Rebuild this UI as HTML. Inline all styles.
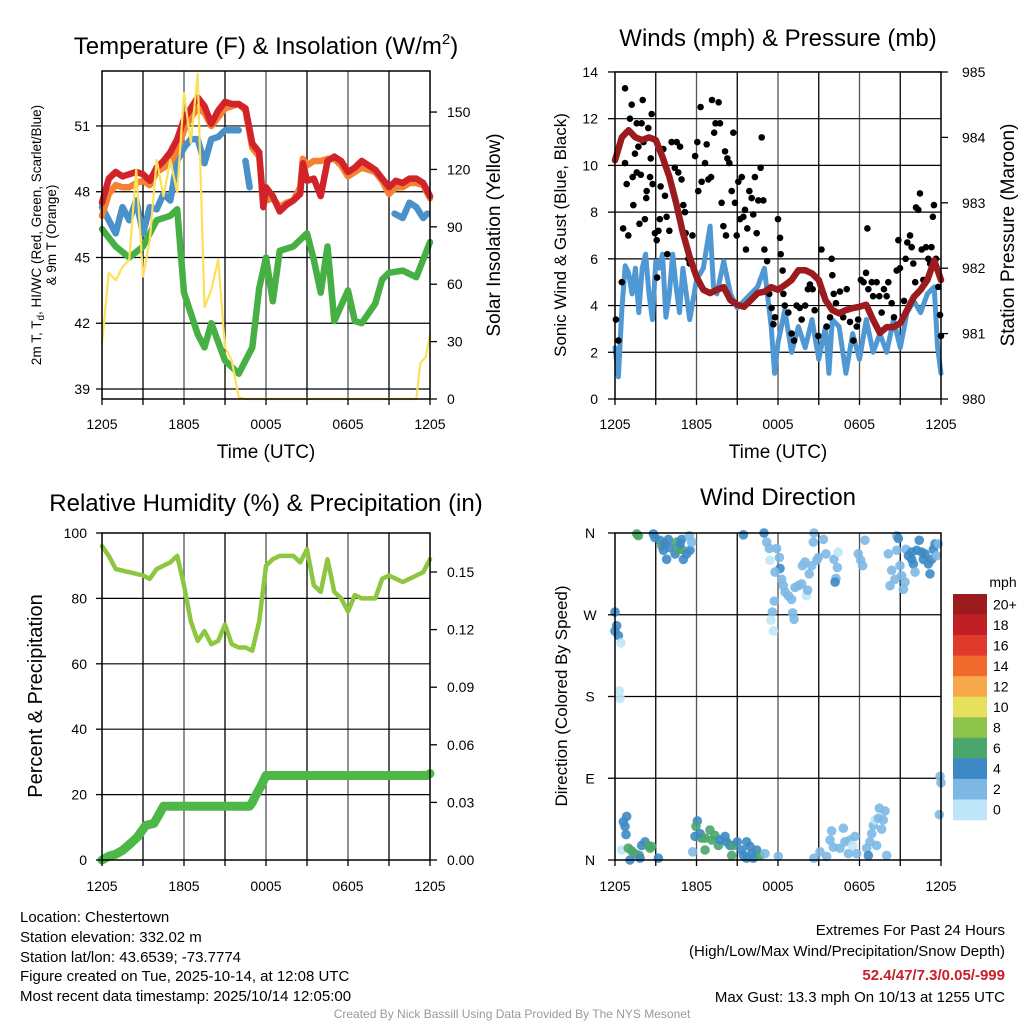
<!DOCTYPE html>
<html><head><meta charset="utf-8"><style>
body{margin:0;background:#fff}
svg{display:block;font-family:"Liberation Sans",sans-serif}
</style></head><body>
<svg id="chart" width="1024" height="1024" viewBox="0 0 1024 1024" xmlns="http://www.w3.org/2000/svg">
<rect width="1024" height="1024" fill="#fff"/>
<g id="grids"></g>
<g id="marks"></g>
<g id="frames" fill="none" stroke="#000" stroke-width="1.5">
<rect x="102" y="71" width="328" height="328"/>
<rect x="615" y="72" width="326" height="327"/>
<rect x="102" y="533" width="328" height="327"/>
<rect x="615" y="533" width="326" height="327"/>
</g>
<g id="ticks" font-size="14" fill="#000"></g>
<g font-size="24" text-anchor="middle">
<text x="266" y="54">Temperature (F) &amp; Insolation (W/m<tspan font-size="15" dy="-10">2</tspan><tspan dy="10">)</tspan></text>
<text x="778" y="46">Winds (mph) &amp; Pressure (mb)</text>
<text x="266" y="511">Relative Humidity (%) &amp; Precipitation (in)</text>
<text x="778" y="505">Wind Direction</text>
</g>
<g font-size="19" text-anchor="middle">
<text x="266" y="458">Time (UTC)</text>
<text x="778" y="458">Time (UTC)</text>
<text transform="translate(500,235) rotate(-90)">Solar Insolation (Yellow)</text>
<text transform="translate(1014,235) rotate(-90)">Station Pressure (Maroon)</text>
<text transform="translate(42,696) rotate(-90)" font-size="20">Percent &amp; Precipitation</text>
</g>
<g font-size="17" text-anchor="middle">
<text transform="translate(566,235) rotate(-90)">Sonic Wind &amp; Gust (Blue, Black)</text>
<text transform="translate(567,696) rotate(-90)">Direction (Colored By Speed)</text>
</g>
<g font-size="13.5" text-anchor="middle">
<text transform="translate(41,235) rotate(-90)">2m T, T<tspan font-size="10" dy="3">d</tspan><tspan dy="-3">, HI/WC (Red, Green, Scarlet/Blue)</tspan></text>
<text transform="translate(56,235) rotate(-90)">&amp; 9m T (Orange)</text>
</g>
<g id="colorbar"></g>
<g font-size="15" fill="#000">
<text x="20" y="922">Location: Chestertown</text>
<text x="20" y="942">Station elevation: 332.02 m</text>
<text x="20" y="962">Station lat/lon: 43.6539; -73.7774</text>
<text x="20" y="981">Figure created on Tue, 2025-10-14, at 12:08 UTC</text>
<text x="20" y="1001">Most recent data timestamp: 2025/10/14 12:05:00</text>
<g text-anchor="end">
<text x="1005" y="935">Extremes For Past 24 Hours</text>
<text x="1005" y="956">(High/Low/Max Wind/Precipitation/Snow Depth)</text>
<text x="1005" y="980" fill="#c8202a" font-weight="bold">52.4/47/7.3/0.05/-999</text>
<text x="1005" y="1002">Max Gust: 13.3 mph On 10/13 at 1255 UTC</text>
</g>
</g>
<text x="512" y="1018" font-size="12" fill="#999" text-anchor="middle">Created By Nick Bassill Using Data Provided By The NYS Mesonet</text>
</svg>
<script>
// ---------- data ----------
const xTickLabels = ["1205","1805","0005","0605","1205"];
const xTickHours = [0,6,12,18,24];
const p1LeftTicks = [39,42,45,48,51];
const p1RightTicks = [0,30,60,90,120,150];
const p2LeftTicks = [0,2,4,6,8,10,12,14];
const p2RightTicks = [980,981,982,983,984,985];
const p3LeftTicks = [0,20,40,60,80,100];
const p3RightTicks = [0,0.03,0.06,0.09,0.12,0.15];
const dirTickDeg = [0,90,180,270,360];
const dirTickLabels = ["N","E","S","W","N"];

const redHours = [0,0.5,1,1.5,2,2.5,3,3.5,4,4.5,5,5.5,6,6.5,7,7.5,8,8.5,9,9.5,10,10.5,11,11.5,11.8,12,12.5,13,13.5,14,14.5,14.7,15,15.5,16,16.5,17,17.5,18,18.5,19,19.5,20,20.5,21,21.5,22,22.5,23,23.5,24];
const tempRed = [47.5,48.6,48.9,48.7,48.8,48.9,48.8,48.5,49.1,49.4,49.8,50.4,51.3,51.8,52.3,51.9,51.1,51.7,52.1,52.0,52.0,51.8,50.2,49.8,47.3,48.2,47.8,47.1,47.4,47.6,47.9,49.3,48.5,48.6,47.8,49.4,49.6,49.4,48.9,49.1,49.4,49.2,49.0,48.6,48.2,48.5,48.4,48.6,48.6,48.4,47.8];
const tempOrange = [46.9,47.9,48.3,48.2,48.2,48.4,48.5,48.3,48.9,49.1,49.3,49.9,50.8,51.4,51.8,51.6,51.0,51.4,51.8,51.9,52.0,51.7,50.0,49.6,47.6,47.6,47.7,47.3,47.5,47.6,48.2,49.5,49.2,49.4,49.4,49.5,49.5,49.2,48.7,48.9,49.1,49.0,48.9,48.5,47.9,48.2,48.2,48.4,48.4,48.3,47.7];
const greenHours = [0,1,2,3,4,5,5.5,6,7,7.5,8,9,10,11,11.5,12,12.5,13,14,15,15.5,16,16.5,17,18,18.5,19,20,20.5,21,22,23,24];
const tempGreen = [46.3,45.5,45.0,45.5,46.7,46.9,47.2,43.4,41.5,40.9,42.0,40.3,39.7,40.9,43.6,45.0,43.0,45.3,45.5,46.1,44.9,43.4,45.5,42.1,43.5,42.1,42.0,42.9,44.0,44.3,44.4,44.1,45.7];
const blueHours = [0,0.5,1,1.5,2,2.5,3,3.5,4,4.5,5,5.5,6,6.5,7,7.5,8,8.5,9,9.5,10,10.3,10.5,10.8,11,21.2,21.4,22,22.5,23,23.5,23.8,24];
const tempBlue = [47.3,46.7,46.1,47.3,46.7,47.6,46.1,47.3,47.2,47.9,47.6,49.4,50.0,50.4,50.4,49.3,50.4,50.5,50.8,50.8,50.8,null,49.4,48.2,null,null,47.0,46.8,47.5,47.3,46.8,47.0,null];
const solarHours = [0,0.5,1,1.5,2,2.5,3,3.5,4,4.5,5,5.5,6,6.5,7,7.5,8,8.5,9,9.5,10,10.5,23,23.3,23.7,24];
const solarValues = [29,66,62,69,73,120,64,83,125,106,125,108,160,134,170,48,57,73,27,20,1,0,0,19,22,34];

const windHours = [0,0.25,0.5,0.75,1,1.25,1.5,1.75,2,2.25,2.5,2.75,3,3.25,3.5,3.75,4,4.25,4.5,4.75,5,5.5,6,6.5,7,7.25,7.5,8,8.5,9,9.5,10,10.5,11,11.5,11.75,12,12.5,13,13.5,14,14.5,15,15.5,15.75,16,16.5,17,17.5,18,18.5,19,19.5,20,20.5,21,21.5,22,22.5,23,23.5,23.75,24];
const windSpeed = [2.2,0.95,3.8,5.7,5.4,4.5,5.6,3.7,5.6,6.2,4.5,3.4,5.9,5.6,6.2,3.5,4.5,6.2,4.8,3.7,5.6,3.4,5.1,5.6,7.4,4.8,4.5,5.9,4.5,3.9,4.2,4.5,4.8,5.6,3.1,1.1,2.4,3.8,2.0,3.1,2.2,3.4,1.7,3.1,1.1,3.4,3.1,1.1,2.8,1.7,3.4,2.0,2.8,2.0,3.4,2.2,3.7,4.2,3.7,4.5,4.8,2.2,1.1];
const pressHours = [0,0.5,1,1.5,2,2.5,3,3.5,4,4.5,5,5.5,6,6.5,7,7.5,8,8.5,9,9.5,10,10.5,11,11.5,12,12.5,13,13.5,14,14.5,15,15.5,16,16.5,17,17.5,18,18.5,19,19.5,20,20.5,21,21.5,22,22.5,23,23.5,24];
const pressValues = [983.65,984.0,984.11,984.0,983.96,984.0,983.96,983.7,983.4,983.0,982.54,982.17,981.87,981.67,981.62,981.67,981.71,981.51,981.44,981.41,981.51,981.62,981.64,981.71,981.67,981.74,981.82,981.97,981.97,981.92,981.82,981.51,981.36,981.31,981.36,981.39,981.41,981.44,981.21,981.01,981.1,981.1,981.16,981.36,981.56,981.67,981.82,982.12,981.82];
const gustHours = [0.07,0.25,0.5,0.6,0.74,0.74,0.86,0.98,1.1,1.23,1.3,1.35,1.47,1.6,1.6,1.72,1.8,1.9,1.96,2.04,2.1,2.2,2.3,2.33,2.45,2.58,2.63,2.7,2.77,2.94,3.07,3.2,3.1,3.3,3.36,3.56,3.68,3.8,3.85,4.0,4.17,4.4,4.54,4.66,4.79,4.9,5.03,5.15,5.2,5.4,5.5,5.7,5.9,6.06,6.13,6.3,6.38,6.63,6.75,6.87,7.07,7.14,7.3,7.4,7.63,7.73,7.85,7.98,8.1,8.17,8.27,8.42,8.59,8.71,8.83,8.96,9.08,9.2,9.33,9.45,9.57,9.64,9.74,9.89,10.06,10.18,10.3,10.43,10.55,10.72,10.8,10.92,11.0,11.2,11.36,11.53,11.66,11.78,12.0,12.15,12.2,12.34,12.4,12.5,12.76,13.0,13.18,13.37,13.6,13.74,14.0,14.2,14.35,14.55,14.7,14.97,15.2,15.34,15.58,15.83,15.95,16.0,16.1,16.27,16.56,16.8,17.06,17.3,17.55,17.8,17.9,18.1,18.3,18.48,18.58,18.65,18.9,19.0,19.26,19.46,19.63,19.8,20.0,20.12,20.37,20.54,20.74,20.86,20.98,21.28,21.4,21.52,21.72,21.84,21.96,22.1,22.16,22.33,22.45,22.58,22.7,22.9,23.06,23.2,23.3,23.4,23.48,23.63,23.8,23.93,24.0];
const gustValues = [3.4,2.5,5.0,7.3,13.3,10.1,9.2,7.0,12.0,12.6,9.5,8.3,10.5,11.8,9.7,10.8,7.5,9.6,11.8,12.8,11.0,7.7,8.6,8.9,11.6,9.5,10.3,12.2,9.2,7.1,6.8,7.2,5.2,7.7,9.1,10.7,8.7,7.8,6.2,7.2,11.0,9.9,11.0,9.7,10.8,9.4,8.3,8.0,7.1,6.0,5.8,7.0,10.4,11.0,8.9,12.5,9.3,10.1,10.9,9.4,9.5,12.8,11.4,11.8,12.7,11.8,8.4,7.4,10.6,7.0,10.3,10.1,8.9,11.4,8.4,7.0,9.3,7.7,9.5,7.8,8.1,6.4,7.3,8.9,8.6,7.9,9.5,7.1,8.5,9.9,11.2,8.5,6.4,5.9,4.5,3.9,3.2,3.5,7.7,6.9,6.2,5.5,4.5,4.0,3.7,2.8,2.5,4.0,3.9,3.4,4.0,4.7,4.9,4.7,3.8,2.7,6.4,4.5,3.1,3.5,6.0,5.3,4.5,4.1,4.6,3.5,4.7,3.3,2.5,3.1,3.4,5.1,5.0,5.4,7.3,4.7,5.0,4.4,5.0,4.4,3.7,4.7,4.4,5.0,4.1,3.5,5.5,6.8,5.6,4.2,6.0,6.7,7.0,6.5,5.8,5.0,8.2,8.1,8.8,6.4,5.1,6.5,6.0,5.8,6.5,7.8,8.3,6.0,4.8,3.6,2.7];

const rhHours = [0,0.5,1,2,3,3.5,4,5,5.5,6,6.5,7,7.5,8,8.5,9,9.5,10,10.5,11,11.5,12,12.5,13,14,14.5,15,15.5,16,16.5,17,17.5,18,18.5,19,20,20.5,21,22,22.5,23,23.5,24];
const rhValues = [96,93,89,88,87,86,89,91,93,84,73,67,70,66,67,72,66,65,65,64,73,90,92,93,93,91,95,84,82,92,82,80,76,81,80,80,86,87,85,86,87,88,92];
const precipHours = [0,0.5,1,1.5,2,2.6,3.2,3.8,4.2,4.5,10.8,11.0,11.2,11.6,12.0,23.8,24];
const precipValues = [0,0.002,0.003,0.005,0.008,0.012,0.018,0.019,0.024,0.028,0.028,0.030,0.033,0.038,0.044,0.044,0.045];

const dirHours = [1.6,1.72,2.82,2.94,3.31,3.44,3.68,3.93,4.05,3.8,4.42,4.54,4.66,4.91,4.91,5.03,5.28,5.52,5.47,5.64,4.79,3.56,
9.45,10.97,11.17,11.36,11.9,11.41,12.1,12.15,11.78,12.27,12.39,12.52,12.76,13.0,13.25,13.5,13.74,14.1,14.18,14.3,13.8,13.99,14.48,14.85,14.97,14.6,14.65,15.34,15.53,16.12,16.37,16.44,16.27,16.2,17.91,18.09,18.23,18.4,11.73,11.58,11.48,11.66,13.08,13.18,
20.12,20.37,20.25,20.61,20.74,20.86,20.74,20.98,21.23,21.35,21.1,21.42,21.6,21.84,21.96,22.09,22.21,22.4,22.58,22.7,22.82,23.07,23.19,23.31,23.44,23.56,23.8,23.68,21.84,
0,0.12,0,0.25,0.44,0.32,0.37,
0.86,0.61,0.74,0.81,0.49,0.98,1.23,1.47,1.79,1.1,1.96,2.21,2.45,2.58,2.7,1.84,3.19,
6.06,5.96,5.89,6.38,6.26,6.63,6.99,7.12,7.36,7.61,7.73,8.1,8.22,8.47,8.71,9.0,9.33,9.45,9.69,9.94,10.06,10.18,10.43,10.67,11.04,5.72,8.59,6.63,12.02,9.69,
14.65,15.09,15.58,15.83,15.95,16.07,16.56,16.81,16.93,17.18,17.3,17.5,17.67,17.79,18.53,18.65,18.77,18.9,19.02,19.14,19.26,19.39,19.63,19.75,19.88,19.46,20.0,23.93,24,23.88];
const dirDegrees = [359,357,359,355,352,346,348,353,344,331,337,350,342,342,353,331,337,341,357,350,348,341,
358,360,350,343,343,330,333,321,317,309,302,295,291,287,300,302,304,291,297,315,324,328,324,330,333,350,360,353,337,331,322,339,310,306,337,330,324,352,285,273,264,252,272,265,
337,319,302,309,357,354,341,324,298,306,313,342,335,331,326,317,341,352,339,331,337,326,315,331,342,348,348,335,339,
273,258,252,247,239,186,178,
48,42,37,28,11,13,10,7,5,0,16,20,16,13,15,2,2,
43,37,26,24,29,24,33,22,27,16,22,26,20,16,16,20,11,5,20,15,7,2,11,5,7,9,5,11,4,2,
2,9,4,22,32,14,13,35,20,7,22,16,26,7,13,5,20,29,38,44,16,46,34,44,54,57,5,92,85,50];
const dirSpeeds = [7,7,5,5,5,7,5,5,5,5,5,7,7,7,5,5,5,5,3,3,5,5,
5,5,3,3,3,1,3,5,3,3,3,3,3,3,3,3,3,1,3,3,3,3,3,3,3,3,3,3,3,3,3,1,3,5,3,3,3,3,3,3,1,1,3,3,
3,3,3,3,3,5,3,3,3,3,3,3,5,5,5,3,5,5,5,5,5,5,5,5,5,5,3,3,5,
5,5,5,5,1,1,1,
5,5,5,5,1,7,7,7,7,5,5,5,7,7,7,5,5,
5,7,5,7,5,7,7,7,7,7,5,5,5,5,7,5,5,5,5,5,5,5,5,7,3,3,7,7,3,5,
3,3,3,3,3,3,3,3,3,3,3,1,3,3,3,5,3,3,3,1,3,3,3,3,3,3,3,3,3,3];
const cbLabels = ["20+","18","16","14","12","10","8","6","4","2","0"];
const cbColors = ["#9b1b1e","#c11f26","#df3a2b","#f0692d","#f7a84a","#e7e05c","#8dc24b","#4aa66b","#3d89c5","#7db8e4","#bfe5f9"];

// ---------- scales ----------
const NS = "http://www.w3.org/2000/svg";
const p1x = h => 102 + h * 328 / 24;
const p1yT = v => 389 - (v - 39) * 21.92;
const p1yS = v => 399 - v * 1.913;
const p2x = h => 615 + h * 326 / 24;
const p2yW = v => 399 - v * 23.36;
const p2yP = v => 399 - (v - 980) * 65.4;
const p3yRH = v => 860 - v * 3.27;
const p3yP = v => 860 - v * 1920;
const p4y = d => 860 - d * 0.9083;
function speedColor(s){ const i = Math.min(10, Math.floor(s / 2)); return cbColors[10 - i]; }

function mk(tag, attrs, parent){
  const e = document.createElementNS(NS, tag);
  for (const k in attrs) e.setAttribute(k, attrs[k]);
  parent.appendChild(e);
  return e;
}
function pathD(xs, ys, fx, fy){
  let d = "", pen = false;
  for (let i = 0; i < xs.length; i++){
    if (ys[i] === null){ pen = false; continue; }
    d += (pen ? "L" : "M") + fx(xs[i]).toFixed(1) + "," + fy(ys[i]).toFixed(1);
    pen = true;
  }
  return d;
}
const grids = document.getElementById("grids");
const marks = document.getElementById("marks");
const ticks = document.getElementById("ticks");

// ---------- grids ----------
function vgrid(fx, y0, y1){
  for (let h = 3; h < 24; h += 3){
    const l = mk("line", {x1: fx(h), x2: fx(h), y1: y0, y2: y1, stroke: (h % 6 === 0 ? "#555" : "#000"), "stroke-width": 1.3}, grids);
    
    
  }
}
function hgrid(vals, fy, x0, x1){
  vals.forEach(v => {
    const y = fy(v);
    const l = mk("line", {x1: x0, x2: x1, y1: y, y2: y, stroke: "#000", "stroke-width": 1.2}, grids);
    
    
  });
}
vgrid(p1x, 71, 399); vgrid(p2x, 72, 399); vgrid(p1x, 533, 860); vgrid(p2x, 533, 860);
hgrid(p1LeftTicks, p1yT, 102, 430);
hgrid(p2LeftTicks.slice(1), p2yW, 615, 941);
hgrid(p3LeftTicks.slice(1, 5), p3yRH, 102, 430);
hgrid(dirTickDeg.slice(1, 4), p4y, 615, 941);

// ---------- tick labels ----------
function label(x, y, txt, anchor, name){
  const t = mk("text", {x: x, y: y, "text-anchor": anchor}, ticks);
  t.textContent = txt;
  
  
  return t;
}
function tickMark(x1, y1, x2, y2){
  const l = mk("line", {x1: x1, y1: y1, x2: x2, y2: y2, stroke: "#000", "stroke-width": 1.3}, ticks);
  
  
}
xTickHours.forEach((h, i) => {
  label(p1x(h), 429, xTickLabels[i], "middle", "x-tick-label");
  label(p2x(h), 429, xTickLabels[i], "middle", "x-tick-label");
  label(p1x(h), 891, xTickLabels[i], "middle", "x-tick-label");
  label(p2x(h), 891, xTickLabels[i], "middle", "x-tick-label");
});
for (let h = 0; h <= 24; h += 3){
  tickMark(p1x(h), 399, p1x(h), 405); tickMark(p2x(h), 399, p2x(h), 405);
  tickMark(p1x(h), 860, p1x(h), 866); tickMark(p2x(h), 860, p2x(h), 866);
}
p1LeftTicks.forEach(v => { label(90, p1yT(v) + 5, String(v), "end", "temperature-tick-label"); tickMark(96, p1yT(v), 102, p1yT(v)); });
p1RightTicks.forEach(v => { label(447, p1yS(v) + 5, String(v), "start", "insolation-tick-label"); tickMark(430, p1yS(v), 437, p1yS(v)); });
p2LeftTicks.forEach(v => { label(598, p2yW(v) + 5, String(v), "end", "wind-tick-label"); tickMark(608, p2yW(v), 615, p2yW(v)); });
p2RightTicks.forEach(v => { label(962, p2yP(v) + 5, String(v), "start", "pressure-tick-label"); tickMark(941, p2yP(v), 948, p2yP(v)); });
p3LeftTicks.forEach(v => { label(87, p3yRH(v) + 5, String(v), "end", "humidity-tick-label"); tickMark(96, p3yRH(v), 102, p3yRH(v)); });
p3RightTicks.forEach(v => { label(447, p3yP(v) + 5, v.toFixed(2), "start", "precip-tick-label"); tickMark(430, p3yP(v), 437, p3yP(v)); });
dirTickDeg.forEach((d, i) => { label(590, p4y(d) + 5, dirTickLabels[i], "middle", "direction-tick-label"); tickMark(608, p4y(d), 615, p4y(d)); });

// ---------- panel 1 ----------
function line(d, color, w, name){
  const p = mk("path", {d: d, fill: "none", stroke: color, "stroke-width": w, "stroke-linejoin": "round", "stroke-linecap": "round"}, marks);
  
  
  return p;
}
line(pathD(blueHours, tempBlue, p1x, p1yT), "#4a90c9", 6.5, "dewpoint-line");
line(pathD(greenHours, tempGreen, p1x, p1yT), "#46b044", 6.5, "green-temperature-line");
line(pathD(redHours, tempOrange, p1x, p1yT), "#f58233", 6.5, "heat-index-line");
line(pathD(redHours, tempRed, p1x, p1yT), "#d2232a", 6.5, "temperature-line");
line(pathD(solarHours, solarValues, p1x, p1yS), "#fde05a", 2.2, "solar-insolation-line");

// ---------- panel 2 ----------
line(pathD(windHours, windSpeed, p2x, p2yW), "#4f98d3", 5, "sonic-wind-line");
gustHours.forEach((h, i) => {
  const c = mk("circle", {cx: p2x(h), cy: p2yW(gustValues[i]), r: 3.3, fill: "#000"}, marks);
  
  
});
line(pathD(pressHours, pressValues, p2x, p2yP), "#9b1b1e", 6.5, "pressure-line");

// ---------- panel 3 ----------
line(pathD(rhHours, rhValues, p1x, p3yRH), "#8dc63f", 4.5, "relative-humidity-line");
line("M" + precipHours.map((h, i) => p1x(h).toFixed(1) + "," + p3yP(precipValues[i]).toFixed(1)).join("L"), "#4db848", 9, "precipitation-line");

// ---------- panel 4 ----------
dirHours.forEach((h, i) => {
  const c = mk("circle", {cx: p2x(h), cy: p4y(dirDegrees[i]), r: 4.8, fill: speedColor(dirSpeeds[i]), "fill-opacity": 0.9}, marks);
  
  
});

// ---------- colorbar ----------
const cb = document.getElementById("colorbar");
const cbTitle = mk("text", {x: 1003, y: 587, "font-size": 14, "text-anchor": "middle"}, cb);
cbTitle.textContent = "mph";


const cbH = 226 / cbColors.length;
cbColors.forEach((col, i) => {
  const r = mk("rect", {x: 953, y: 594 + i * cbH, width: 34, height: cbH + 0.3, fill: col}, cb);
  
  
  const t = mk("text", {x: 993, y: 594 + i * cbH + cbH / 2 + 5, "font-size": 14}, cb);
  t.textContent = cbLabels[i];
  
  
});
</script>
</body></html>
